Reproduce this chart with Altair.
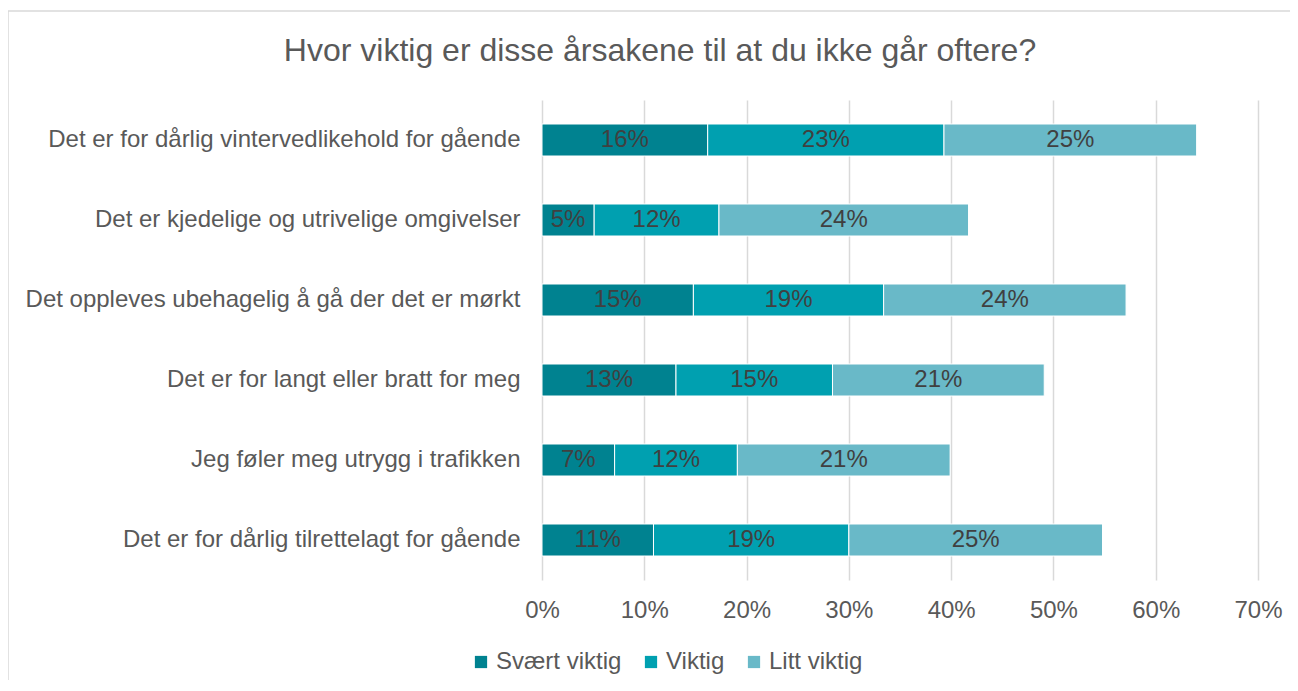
import altair as alt
import pandas as pd

categories = [
    "Det er for dårlig vintervedlikehold for gående",
    "Det er kjedelige og utrivelige omgivelser",
    "Det oppleves ubehagelig å gå der det er mørkt",
    "Det er for langt eller bratt for meg",
    "Jeg føler meg utrygg i trafikken",
    "Det er for dårlig tilrettelagt for gående",
]
series = ["Svært viktig", "Viktig", "Litt viktig"]
svaert = [0.162, 0.051, 0.148, 0.131, 0.071, 0.109]
viktig = [0.231, 0.122, 0.186, 0.153, 0.120, 0.191]
litt = [0.247, 0.244, 0.237, 0.207, 0.208, 0.248]
colors = ["#008290", "#00A0B0", "#69B9C8"]
x_ticks = [0, 0.1, 0.2, 0.3, 0.4, 0.5, 0.6, 0.7]
title_text = "Hvor viktig er disse årsakene til at du ikke går oftere?"

rows = []
for i, c in enumerate(categories):
    start = 0.0
    for s, vals in zip(series, [svaert, viktig, litt]):
        v = vals[i]
        rows.append({"cat": c, "series": s, "value": v, "start": start,
                     "end": start + v, "mid": start + v / 2})
        start += v
df = pd.DataFrame(rows)

FONT = "Liberation Sans"

base = alt.Chart(df)

bars = base.mark_bar(stroke="white", strokeWidth=1).encode(
    y=alt.Y("cat:N", sort=categories, title=None,
            scale=alt.Scale(paddingInner=0.6, paddingOuter=0.3),
            axis=alt.Axis(ticks=False, domain=False, labelFontSize=24,
                          labelColor="#595959", labelPadding=22, labelLimit=700,
                          labelFont=FONT)),
    x=alt.X("start:Q", scale=alt.Scale(domain=[0, 0.7], nice=False), title=None,
            axis=alt.Axis(values=x_ticks, format=".0%", domain=False, ticks=False,
                          labelFlush=False,
                          labelFontSize=24, labelColor="#595959", labelPadding=18,
                          gridColor="#D9D9D9", gridWidth=1.5, labelFont=FONT)),
    x2="end:Q",
    color=alt.Color("series:N", sort=series,
                    scale=alt.Scale(domain=series, range=colors),
                    legend=alt.Legend(title=None, orient="none", direction="horizontal",
                                      legendX=-73, legendY=550, symbolType="square",
                                      symbolSize=150, symbolStrokeWidth=0,
                                      labelFontSize=24, labelColor="#595959",
                                      labelFont=FONT, columnPadding=17,
                                      labelOffset=3)),
)

labels = base.mark_text(fontSize=24, color="#404040", font=FONT).encode(
    y=alt.Y("cat:N", sort=categories),
    x=alt.X("mid:Q"),
    text=alt.Text("value:Q", format=".0%"),
)

one = alt.Data(values=[{}])

border = alt.Chart(one).mark_rect(
    fill=None, stroke="#D9D9D9", strokeWidth=1.5
).encode(
    x=alt.value(-534), x2=alt.value(900), y=alt.value(-89), y2=alt.value(800)
)

title = alt.Chart(one).mark_text(
    fontSize=32, color="#595959", font=FONT, baseline="middle", align="center"
).encode(
    x=alt.value(118), y=alt.value(-49), text=alt.value(title_text)
)

chart = alt.layer(bars, labels, border, title).properties(
    width=716,
    height=480,
    autosize=alt.AutoSizeParams(type="none"),
    padding={"left": 534, "top": 92, "right": 32, "bottom": 100},
).configure(background="white").configure_view(stroke=None)

chart.save("out.html", embed_options={"renderer": "svg", "actions": False})
